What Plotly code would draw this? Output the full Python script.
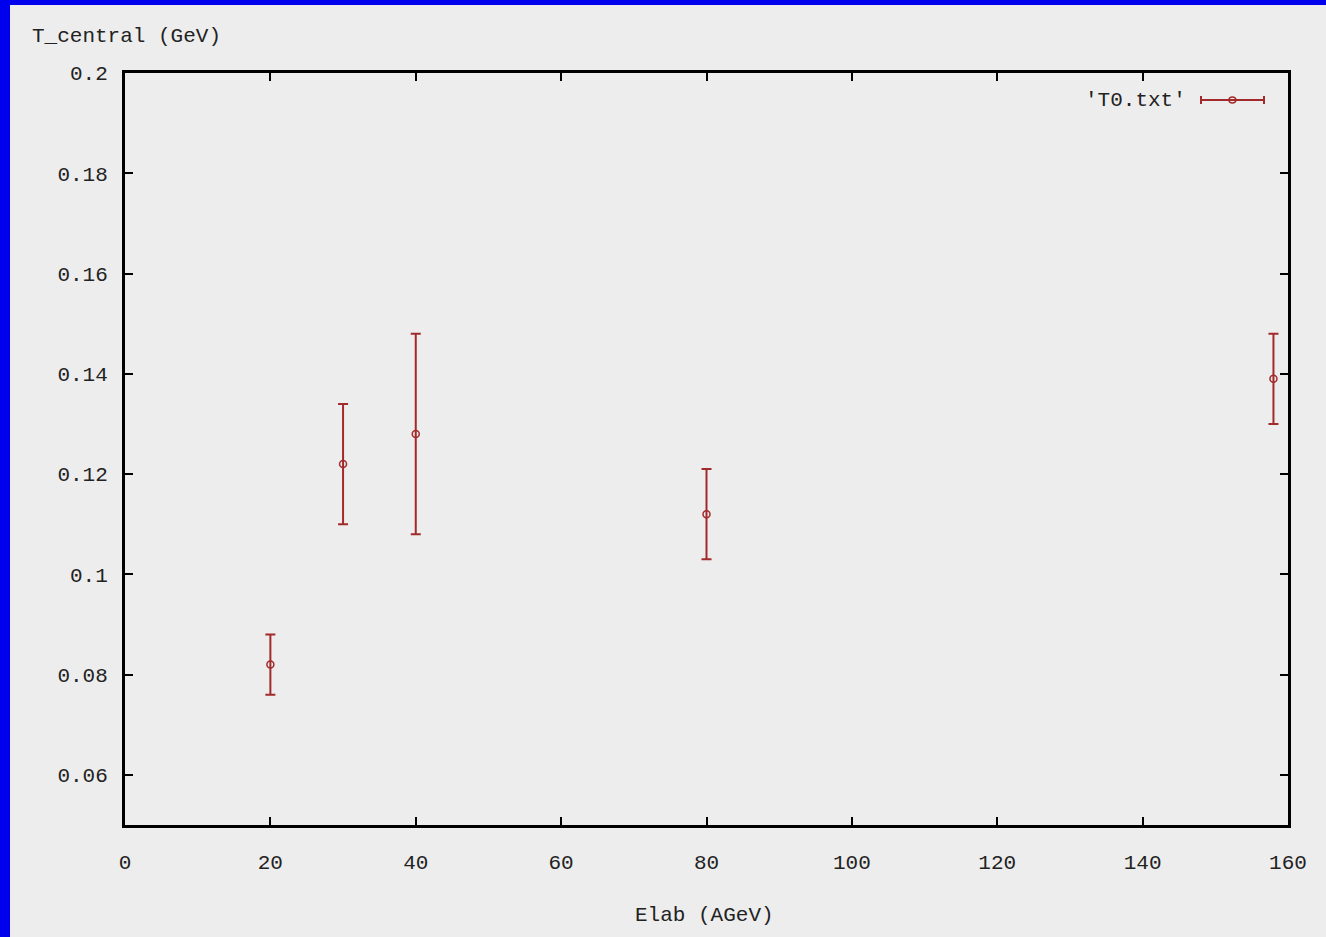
import plotly.graph_objects as go

# Data
elab = [20, 30, 40, 80, 158]
t_central = [0.082, 0.122, 0.128, 0.112, 0.139]
t_err = [0.006, 0.012, 0.020, 0.009, 0.009]

x_ticks = [0, 20, 40, 60, 80, 100, 120, 140, 160]
y_ticks = [0.06, 0.08, 0.10, 0.12, 0.14, 0.16, 0.18, 0.20]
y_tick_text = ["0.06", "0.08", "0.1", "0.12", "0.14", "0.16", "0.18", "0.2"]

W, H = 1326, 937
L, R, T, B = 125, 1288, 73, 825
PW, PH = R - L, B - T

def px(xp):
    return (xp - L) / PW

def py(yp):
    return (B - yp) / PH

BG = "#ededed"
BLUE = "#0000ee"
RED = "#a32a2a"
FONT = "Liberation Mono"
FS = 21

fig = go.Figure()
fig.add_trace(go.Scatter(
    x=elab, y=t_central, mode="markers",
    marker=dict(symbol="circle-open", size=7, color=RED, line=dict(width=1.5, color=RED)),
    error_y=dict(type="data", array=t_err, visible=True, color=RED, thickness=2, width=5),
    showlegend=False,
))

axis_common = dict(
    showgrid=False, zeroline=False, showline=True, linecolor="black", linewidth=3,
    mirror="allticks", ticks="inside", ticklen=8, tickwidth=2, tickcolor="black",
    tickfont=dict(family=FONT, size=FS, color="#222222"),
)
fig.update_xaxes(range=[0, 160], tickvals=x_ticks, ticktext=[str(v) for v in x_ticks],
                 ticklabelstandoff=16, **axis_common)
fig.update_yaxes(range=[0.05, 0.2], tickvals=y_ticks, ticktext=y_tick_text,
                 ticklabelstandoff=10, **axis_common)

shapes = [
    # blue frame strips
    dict(type="rect", xref="paper", yref="paper", x0=px(0), x1=px(10), y0=py(H), y1=py(0),
         fillcolor=BLUE, line=dict(width=0), layer="below"),
    dict(type="rect", xref="paper", yref="paper", x0=px(0), x1=px(W), y0=py(5), y1=py(0),
         fillcolor=BLUE, line=dict(width=0), layer="below"),
    # legend sample
    dict(type="line", xref="paper", yref="paper", x0=px(1200), x1=px(1265), y0=py(100), y1=py(100),
         line=dict(color=RED, width=2)),
    dict(type="line", xref="paper", yref="paper", x0=px(1201), x1=px(1201), y0=py(96), y1=py(104),
         line=dict(color=RED, width=2)),
    dict(type="line", xref="paper", yref="paper", x0=px(1264), x1=px(1264), y0=py(96), y1=py(104),
         line=dict(color=RED, width=2)),
    dict(type="circle", xref="paper", yref="paper", x0=px(1229), x1=px(1236), y0=py(97), y1=py(103),
         line=dict(color=RED, width=1.5)),
]

annotations = [
    dict(text="T_central (GeV)", xref="paper", yref="paper", x=px(30), y=py(36),
         xanchor="left", yanchor="middle", showarrow=False,
         font=dict(family=FONT, size=FS, color="#222222")),
    dict(text="Elab (AGeV)", xref="paper", yref="paper", x=px(704), y=py(915),
         xanchor="center", yanchor="middle", showarrow=False,
         font=dict(family=FONT, size=FS, color="#222222")),
    dict(text="'T0.txt'", xref="paper", yref="paper", x=px(1188), y=py(100),
         xanchor="right", yanchor="middle", showarrow=False,
         font=dict(family=FONT, size=FS, color="#222222")),
]

fig.update_layout(
    width=W, height=H,
    margin=dict(l=L, r=W - R, t=T, b=H - B),
    paper_bgcolor=BG, plot_bgcolor=BG,
    shapes=shapes, annotations=annotations,
    showlegend=False,
)

fig.write_html("out.html")
